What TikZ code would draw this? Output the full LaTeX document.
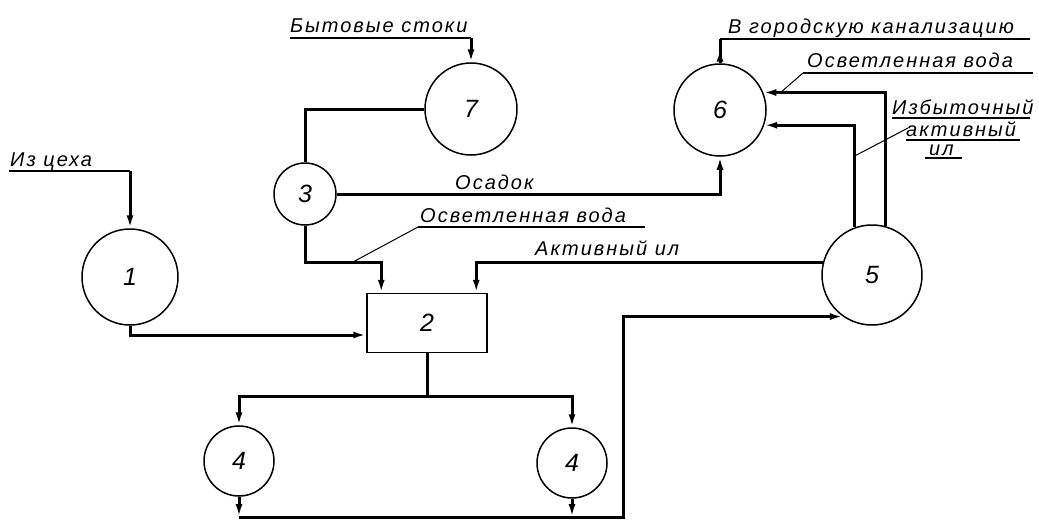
\documentclass[tikz,border=0pt]{standalone}
\usepackage{fontspec}
\setmainfont{Liberation Sans}
\newfontfamily\draftfont{Liberation Sans}[LetterSpace=10]
\usetikzlibrary{arrows.meta, calc, decorations.markings}

\begin{document}
\begin{tikzpicture}[
  x=1pt, y=-1pt,
  tank/.style={circle, draw, line width=1.5pt, inner sep=0pt,
               font=\draftfont\fontsize{25}{25}\selectfont\itshape},
  unit/.style={rectangle, draw, line width=1.5pt, inner sep=0pt,
               minimum width=120pt, minimum height=59pt,
               font=\draftfont\fontsize{25}{25}\selectfont\itshape},
  lbl/.style={anchor=base west, inner sep=0pt,
              font=\draftfont\fontsize{20}{22}\selectfont\itshape},
  ul/.style={line width=1.3pt},
  ld/.style={line width=1pt},
  pipe/.style={line width=3pt},
  fl/.style={pipe, -{Latex[length=13pt,width=7pt]}},
  midarr/.style={pipe, postaction={decorate}, decoration={markings,
                 mark=at position #1 with {\arrow{Latex[length=13pt,width=7pt]}}}}
]
\useasboundingbox (0,0) rectangle (1039,522);

% units
\node[tank, minimum size=96pt] (t1) at (130,277) {1};
\node[unit] (u2) at (427,323) {2};
\node[tank, minimum size=62pt] (t3) at (305,194) {3};
\node[tank, minimum size=70pt] (t4a) at (239,461) {4};
\node[tank, minimum size=70pt] (t4b) at (572,463) {4};
\node[tank, minimum size=100pt] (t5) at (872,275) {5};
\node[tank, minimum size=92pt] (t6) at (720,110) {6};
\node[tank, minimum size=92pt] (t7) at (471,109) {7};

% labels
\node[lbl] (lshop) at (10,166) {Из цеха};
\node[lbl] (lsew) at (290,32) {Бытовые стоки};
\node[lbl] (lcity) at (728,33) {В городскую канализацию};
\node[lbl] (lclr6) at (807,67) {Осветленная вода};
\node[lbl] (lexc1) at (892,114) {Избыточный};
\node[lbl] (lexc2) at (906,136) {активный};
\node[lbl] (lexc3) at (929,155) {ил};
\node[lbl] (lsed) at (455,189) {Осадок};
\node[lbl] (lclr2) at (420,222) {Осветленная вода};
\node[lbl] (lact) at (535,255) {Активный ил};

\coordinate (a1) at ([xshift=15pt]u2.north west);
\coordinate (a2) at ([xshift=110pt]u2.north west);
\coordinate (j2) at (u2.south |- 0,396);
\coordinate (jb) at (623,517);

% inflows
\draw[ul] (9,171) -- (t1.north |- 0,171);
\draw[fl] (t1.north |- 0,171) -- (t1.north);
\draw[ul] (290,38) -- (t7.north |- 0,38);
\draw[fl] (t7.north |- 0,38) -- (t7.north);

% main line
\draw[pipe] (t7.west) -| (t3.north);
\draw[fl] (t3.south) -- (t3.south |- 0,262) -| (a1);
\draw[fl] (t1.south) |- ([yshift=-12pt]u2.west);
\draw[fl] (t5.166) -| (a2);
\draw[pipe] (u2.south) -- (j2);
\draw[fl] (j2) -| (t4a.north);
\draw[fl] (j2) -| (t4b.north);
\draw[fl] (t4a.south) -- (t4a.south |- jb);
\draw[fl] (t4b.south) -- (t4b.south |- jb);
\draw[fl] (t4a.south |- jb) -- (jb) |- (t5.235);

% sludge and outflow
\draw[fl] (t3.east) -| (t6.south);
\draw[fl] (t5.74) |- (t6.22);
\draw[fl] (t5.110) |- (t6.-19);
\draw[midarr=0.6] (t6.north) -- (t6.north |- 0,39);
\draw[ul] (t6.north |- 0,39) -- (1030,39);

% underlines and leaders
\draw[ul] (803,73) -- (1033,73);
\draw[ld] (803,73) -- (780,93);
\draw[ul] (892,118) -- (1030,118);
\draw[ul] (906,140) -- (1020,140);
\draw[ul] (925,158) -- (962,158);
\draw[ld] (t5.110 |- 0,156) -- (908,128);
\draw[ul] (418,227) -- (645,227);
\draw[ld] (418,227) -- (353,262);
\end{tikzpicture}
\end{document}
